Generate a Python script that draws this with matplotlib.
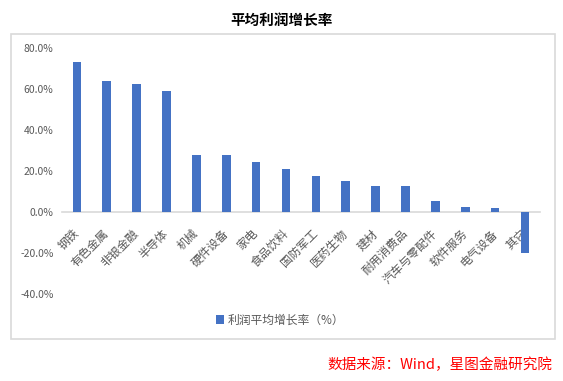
import matplotlib.pyplot as plt
from matplotlib.patches import Rectangle
from matplotlib.ticker import FuncFormatter

plt.rcParams['font.family'] = ['Noto Sans CJK SC', 'DejaVu Sans']

# data
industries = ["钢铁", "有色金属", "非银金融", "半导体", "机械", "硬件设备", "家电",
              "食品饮料", "国防军工", "医药生物", "建材", "耐用消费品",
              "汽车与零配件", "软件服务", "电气设备", "其它"]
growth = [73.3, 64.0, 62.7, 59.2, 27.8, 27.8, 24.3, 21.2, 17.8, 15.3,
          12.8, 12.8, 5.4, 2.5, 2.0, -19.8]
y_ticks = [-40, -20, 0, 20, 40, 60, 80]

BAR_COLOR = "#4472C4"
GRAY_TEXT = "#595959"
LINE_GRAY = "#D9D9D9"

fig = plt.figure(figsize=(5.63, 3.81), dpi=100)
ax = fig.add_axes([0.110, 0.2283, 0.849, 0.6447])

x = list(range(len(industries)))
ax.bar(x, growth, width=0.29, color=BAR_COLOR, label="利润平均增长率（%）", zorder=2)

ax.set_xlim(-0.5, len(industries) - 0.5)
ax.set_ylim(-40, 80)
ax.set_yticks(y_ticks)
ax.yaxis.set_major_formatter(FuncFormatter(lambda v, p: f"{v:.1f}%"))

for s in ["top", "right", "left"]:
    ax.spines[s].set_visible(False)
ax.spines["bottom"].set_position(("data", 0))
ax.spines["bottom"].set_color(LINE_GRAY)
ax.spines["bottom"].set_linewidth(1.2)
ax.spines["bottom"].set_zorder(1)

ax.tick_params(axis="y", length=0, pad=6, labelsize=7.5, labelcolor=GRAY_TEXT)
ax.tick_params(axis="x", length=0, pad=14, labelsize=8.5, labelcolor=GRAY_TEXT)
ax.set_xticks(x)
ax.set_xticklabels(industries, rotation=45, ha="right", va="center",
                   rotation_mode="anchor")

# outer chart frame
fig.patches.append(Rectangle((10.7 / 563, 1 - 339 / 381), (555 - 10.7) / 563,
                             (339 - 34.3) / 381, transform=fig.transFigure,
                             fill=False, edgecolor=LINE_GRAY, linewidth=1.2))

fig.text(0.5, 1 - 20 / 381, "平均利润增长率", ha="center", va="center",
         fontsize=10.5, fontweight="bold", color="black")

fig.legend(loc="center", bbox_to_anchor=(0.498, 1 - 320 / 381), frameon=False,
           fontsize=8.5, handlelength=0.7, handleheight=0.7, handletextpad=0.3,
           labelcolor=GRAY_TEXT)

fig.text(552 / 563, 1 - 365 / 381, "数据来源：Wind，星图金融研究院",
         ha="right", va="center", fontsize=10.5, color="red", style="italic")

fig.savefig("out.png", dpi=100)
